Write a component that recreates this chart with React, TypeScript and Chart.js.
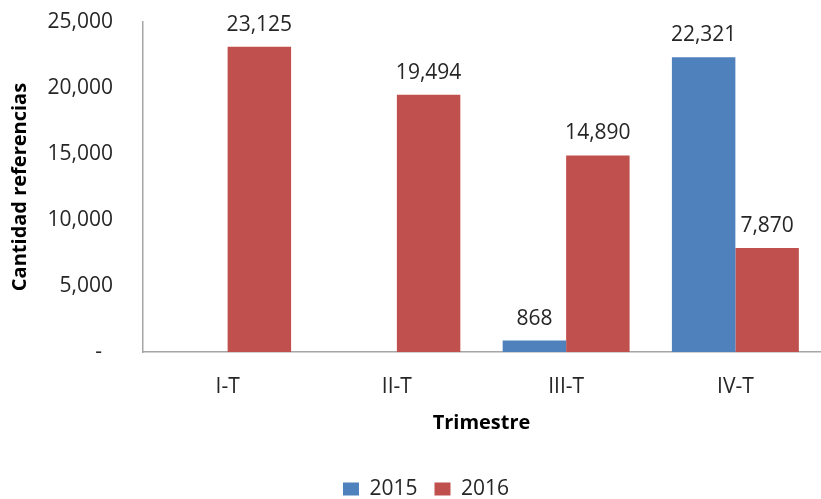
import React, { useEffect, useRef } from "react";
import { Chart, registerables } from "chart.js";

Chart.register(...registerables);

const categories = ["I-T", "II-T", "III-T", "IV-T"];
const seriesNames = ["2015", "2016"];
const values2015: (number | null)[] = [null, null, 868, 22321];
const values2016: (number | null)[] = [23125, 19494, 14890, 7870];
const yTicks = [0, 5000, 10000, 15000, 20000, 25000];

const FONT = "'Open Sans', 'Liberation Sans', sans-serif";
const TEXT = "#262626";

const dataLabels = {
  id: "dataLabels",
  afterLayout(chart: any) {
    if (chart.legend) {
      chart.legend.left += 16;
      chart.legend.right += 16;
    }
  },
  afterDatasetsDraw(chart: any) {
    const ctx = chart.ctx;
    ctx.save();
    ctx.font = `21px ${FONT}`;
    ctx.fillStyle = TEXT;
    ctx.textAlign = "center";
    ctx.textBaseline = "alphabetic";
    chart.data.datasets.forEach((ds: any, i: number) => {
      const meta = chart.getDatasetMeta(i);
      meta.data.forEach((el: any, j: number) => {
        const v = ds.data[j];
        if (v === null || v === undefined) return;
        ctx.fillText(v.toLocaleString("en-US"), el.x, el.y - 16);
      });
    });
    ctx.restore();
  },
};

export default function App() {
  const ref = useRef<HTMLCanvasElement>(null);
  useEffect(() => {
    document.body.style.margin = "0";
    const chart = new Chart(ref.current!, {
      type: "bar",
      data: {
        labels: categories,
        datasets: [
          { label: seriesNames[0], data: values2015, backgroundColor: "#4F81BD", categoryPercentage: 0.75, barPercentage: 1.0 },
          { label: seriesNames[1], data: values2016, backgroundColor: "#C0504D", categoryPercentage: 0.75, barPercentage: 1.0 },
        ],
      },
      options: {
        animation: false,
        responsive: false,
        layout: { padding: { top: 22, right: 1, left: 0, bottom: -10.5 } },
        plugins: {
          legend: {
            position: "bottom",
            labels: { boxWidth: 16, boxHeight: 13, padding: 17, color: TEXT, font: { family: FONT, size: 21 } },
          },
          tooltip: { enabled: false },
        },
        scales: {
          x: {
            grid: { display: false, drawTicks: false },
            border: { display: true, color: "#A6A6A6", width: 1.5 },
            ticks: { color: TEXT, padding: 22, font: { family: FONT, size: 21 } },
            title: { display: true, text: "Trimestre", color: "#000", font: { family: FONT, size: 20, weight: "bold" }, padding: { top: 0, bottom: 26.5 } },
            afterFit(scale: any) { scale.height = 109.5; },
          },
          y: {
            min: 0,
            max: 25000,
            grid: { display: false, drawTicks: false },
            border: { display: true, color: "#A6A6A6", width: 1.5 },
            afterBuildTicks(scale: any) { scale.ticks = yTicks.map((v) => ({ value: v })); },
            ticks: {
              color: TEXT,
              padding: 30,
              font: { family: FONT, size: 21 },
              callback: (v: any) => (Number(v) === 0 ? "-  " : Number(v).toLocaleString("en-US")),
            },
            title: { display: true, text: "Cantidad referencias", color: "#000", font: { family: FONT, size: 20, weight: "bold" }, padding: { top: 8.5, bottom: 0 } },
            afterFit(scale: any) {
              scale.width = 143;
              scale.paddingTop = 0;
              scale.paddingBottom = 0;
            },
          },
        },
      },
      plugins: [dataLabels],
    });
    return () => chart.destroy();
  }, []);
  return (
    <div style={{ position: "absolute", left: 0, top: 0, width: 821, height: 499 }}>
      <canvas ref={ref} width={821} height={499} style={{ display: "block" }} />
    </div>
  );
}
